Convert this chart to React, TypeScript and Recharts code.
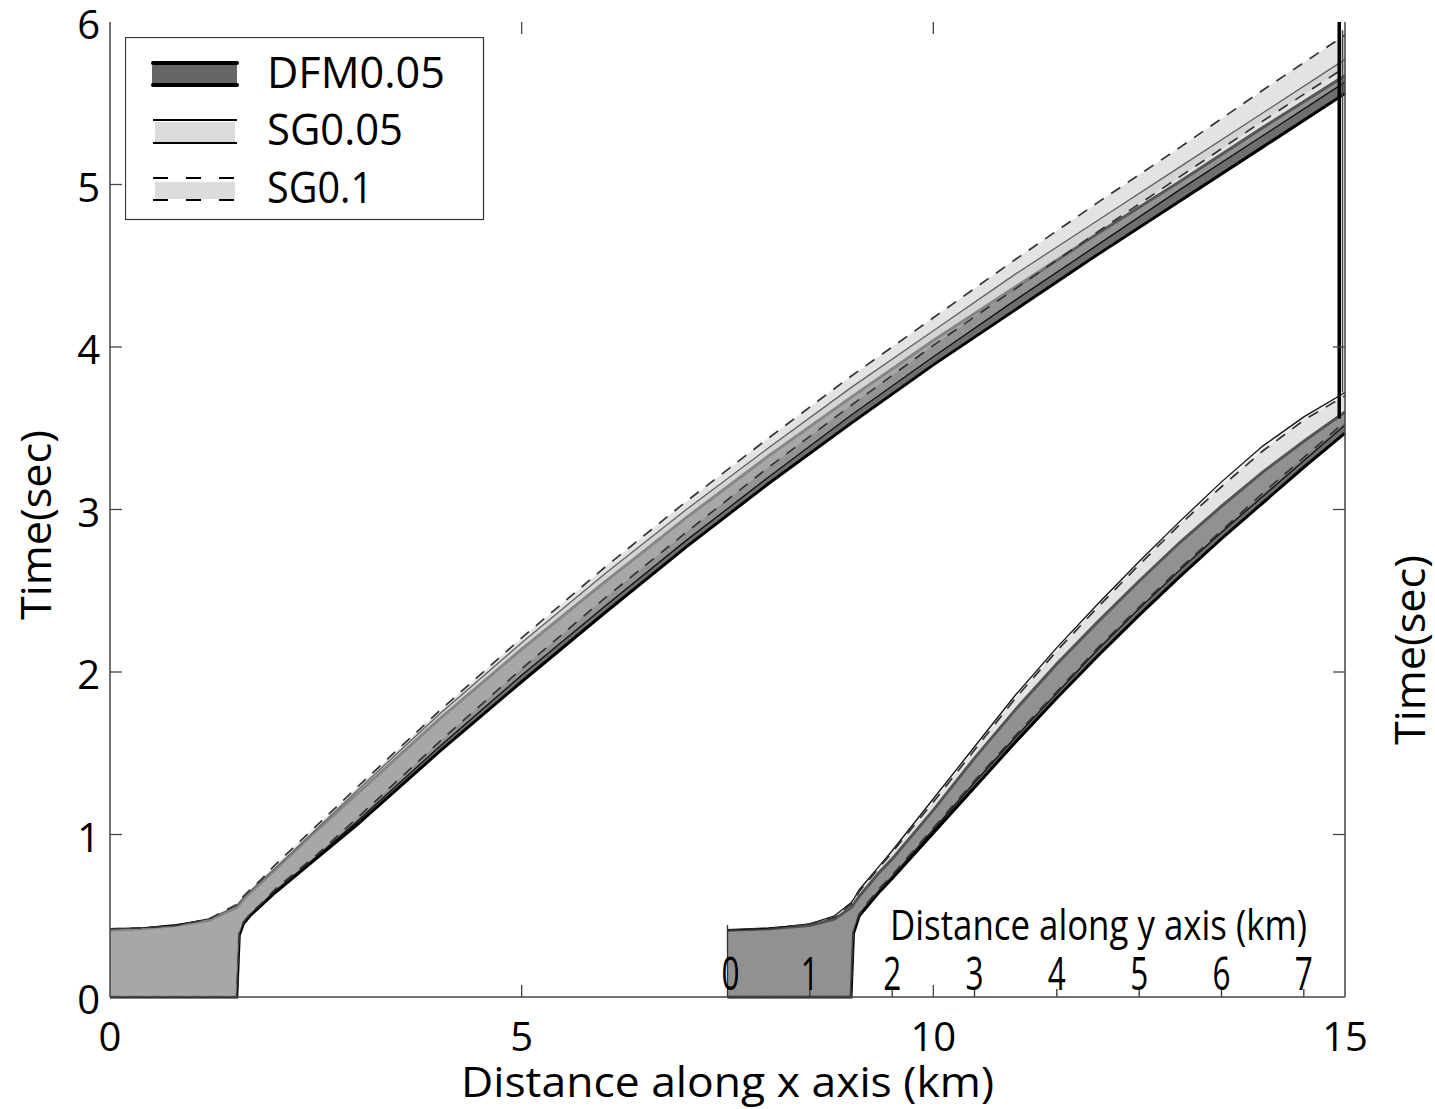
import React from 'react';
import { ComposedChart, Area, Line, XAxis, YAxis, ReferenceLine, Legend, Label } from 'recharts';

const FONT = "'Open Sans', 'DejaVu Sans', sans-serif";
const W = 1435;
const H = 1109;

// distance along x axis (km) and time band edges (sec)
const xKm = [0, 0.4, 0.8, 1.2, 1.54, 1.57, 1.62, 1.7, 1.85, 2.0, 2.5, 3, 4, 5, 6, 7, 8, 9, 10, 11, 12, 13, 14, 15];
const dfmXLow = [0, 0, 0, 0, 0, 0.38, 0.45, 0.5, 0.57, 0.64, 0.85, 1.06, 1.51, 1.94, 2.36, 2.77, 3.16, 3.53, 3.89, 4.23, 4.57, 4.9, 5.23, 5.56];
const dfmXHigh = [0.41, 0.42, 0.44, 0.47, 0.55, 0.57, 0.6, 0.64, 0.71, 0.78, 1.02, 1.25, 1.71, 2.14, 2.55, 2.95, 3.33, 3.69, 4.04, 4.37, 4.7, 5.02, 5.35, 5.67];
const sg05XLow = [0, 0, 0, 0, 0, 0.39, 0.46, 0.51, 0.58, 0.65, 0.86, 1.08, 1.54, 1.98, 2.4, 2.81, 3.2, 3.58, 3.94, 4.29, 4.63, 4.97, 5.3, 5.63];
const sg05XHigh = [0.42, 0.425, 0.44, 0.48, 0.56, 0.58, 0.61, 0.65, 0.72, 0.79, 1.03, 1.27, 1.74, 2.18, 2.6, 3.0, 3.38, 3.75, 4.1, 4.45, 4.78, 5.11, 5.44, 5.77];
const sg01XLow = [0, 0, 0, 0, 0, 0.39, 0.46, 0.51, 0.58, 0.66, 0.87, 1.1, 1.57, 2.02, 2.45, 2.86, 3.26, 3.64, 4.01, 4.36, 4.71, 5.05, 5.39, 5.72];
const sg01XHigh = [0.42, 0.425, 0.44, 0.48, 0.57, 0.59, 0.62, 0.66, 0.73, 0.81, 1.05, 1.29, 1.76, 2.21, 2.64, 3.05, 3.44, 3.82, 4.18, 4.54, 4.89, 5.23, 5.58, 5.92];

// distance along y axis (km), plotted from 7.5 km on the x scale
const yOrigin = 7.5;
const yKm = [0, 0.5, 1.0, 1.3, 1.5, 1.53, 1.6, 1.7, 1.85, 2.0, 2.5, 3.0, 3.5, 4.0, 4.5, 5.0, 5.5, 6.0, 6.5, 7.0, 7.5];
const dfmYLow = [0, 0, 0, 0, 0, 0.39, 0.5, 0.56, 0.65, 0.73, 1.01, 1.29, 1.57, 1.84, 2.1, 2.35, 2.59, 2.82, 3.04, 3.26, 3.47];
const dfmYHigh = [0.41, 0.42, 0.44, 0.48, 0.55, 0.57, 0.62, 0.68, 0.77, 0.85, 1.15, 1.47, 1.77, 2.05, 2.31, 2.56, 2.8, 3.02, 3.23, 3.42, 3.6];
const sg05YLow = [0, 0, 0, 0, 0, 0.4, 0.51, 0.57, 0.66, 0.74, 1.03, 1.32, 1.6, 1.87, 2.14, 2.39, 2.63, 2.86, 3.08, 3.3, 3.52];
const sg05YHigh = [0.41, 0.42, 0.45, 0.5, 0.58, 0.6, 0.66, 0.72, 0.81, 0.9, 1.22, 1.54, 1.86, 2.15, 2.42, 2.68, 2.93, 3.17, 3.39, 3.57, 3.72];
const sg01YLow = [0, 0, 0, 0, 0, 0.4, 0.51, 0.58, 0.67, 0.75, 1.04, 1.33, 1.61, 1.88, 2.15, 2.4, 2.64, 2.87, 3.1, 3.32, 3.54];
const sg01YHigh = [0.41, 0.42, 0.45, 0.49, 0.57, 0.59, 0.65, 0.71, 0.8, 0.89, 1.2, 1.52, 1.84, 2.13, 2.4, 2.66, 2.91, 3.14, 3.36, 3.55, 3.7];

// vertical joins at the end of the fault
const dfmJoinKm = [14.93, 14.93];
const dfmJoinT = [3.56, 6.0];
const sgJoinKm = [14.97, 14.97];
const sgJoinT = [3.72, 5.95];

// ticks
const xTicks = [0, 5, 10, 15];
const yTicks = [0, 1, 2, 3, 4, 5, 6];
const rightTicks = [0, 1, 2, 3, 4];
const insetTicks = [0, 1, 2, 3, 4, 5, 6, 7];
const seriesNames = ['DFM0.05', 'SG0.05', 'SG0.1'];

const toRows = (xs: number[], lo: number[], hi: number[], shift = 0) =>
  xs.map((x, i) => ({ x: x + shift, band: [lo[i], hi[i]] }));
const toLine = (xs: number[], ts: number[]) => xs.map((x, i) => ({ x, t: ts[i] }));

const styles = {
  dfm: { fill: '#6e6e6e', stroke: '#000', strokeWidth: 3, dash: undefined },
  sg05: { fill: '#c0c0c0', stroke: '#111', strokeWidth: 1.3, dash: undefined },
  sg01: { fill: '#c0c0c0', stroke: '#333', strokeWidth: 1.7, dash: '11 9' },
};

const bands = [
  { key: 'dfmX', rows: toRows(xKm, dfmXLow, dfmXHigh), s: styles.dfm, op: 1 },
  { key: 'sg05X', rows: toRows(xKm, sg05XLow, sg05XHigh), s: styles.sg05, op: 0.45 },
  { key: 'sg01X', rows: toRows(xKm, sg01XLow, sg01XHigh), s: styles.sg01, op: 0.45 },
  { key: 'dfmY', rows: toRows(yKm, dfmYLow, dfmYHigh, yOrigin), s: styles.dfm, op: 1 },
  { key: 'sg05Y', rows: toRows(yKm, sg05YLow, sg05YHigh, yOrigin), s: styles.sg05, op: 0.25 },
  { key: 'sg01Y', rows: toRows(yKm, sg01YLow, sg01YHigh, yOrigin), s: styles.sg01, op: 0.25 },
];

const renderLegend = () => (
  <svg width={360} height={184} style={{ display: 'block' }}>
    <rect x={0.5} y={0.5} width={358} height={182} fill="#fff" stroke="#333" strokeWidth={1.2} />
    {/* DFM0.05 */}
    <rect x={27} y={28} width={85} height={19} fill="#666" />
    <line x1={28} y1={26} x2={112} y2={26} stroke="#000" strokeWidth={4} strokeLinecap="round" />
    <line x1={28} y1={48} x2={112} y2={48} stroke="#000" strokeWidth={4} strokeLinecap="round" />
    {/* SG0.05 */}
    <rect x={30} y={85} width={80} height={20} fill="#dcdcdc" />
    <line x1={28} y1={83} x2={112} y2={83} stroke="#000" strokeWidth={2} />
    <line x1={28} y1={106} x2={112} y2={106} stroke="#000" strokeWidth={2} />
    {/* SG0.1 */}
    <rect x={30} y={145} width={80} height={17} fill="#dcdcdc" />
    <line x1={28} y1={141} x2={112} y2={141} stroke="#000" strokeWidth={2} strokeDasharray="15 18" />
    <line x1={28} y1={163} x2={112} y2={163} stroke="#000" strokeWidth={2} strokeDasharray="15 18" />
    {seriesNames.map((n, i) => (
      <text key={n} x={142} y={[51, 108, 166][i]} fontSize={43} fontFamily={FONT} fill="#000"
        textLength={[178, 136, 106][i]} lengthAdjust="spacingAndGlyphs">{n}</text>
    ))}
  </svg>
);

const yTitle = (side: 'left' | 'right') => (props: any) => {
  const vb = props.viewBox || { x: 0, y: 0, width: 0, height: 0 };
  const x = side === 'left' ? vb.x + 51 : vb.x + 80;
  const y = vb.y + (side === 'left' ? 503 : 628);
  return (
    <text x={0} y={0} transform={`translate(${x},${y}) rotate(-90)`} textAnchor="middle" fontSize={42}
      fontFamily={FONT} fill="#000" textLength={190} lengthAdjust="spacingAndGlyphs">Time(sec)</text>
  );
};

const xTitle = (props: any) => {
  const vb = props.viewBox || { x: 0, y: 0, width: 0, height: 0 };
  return (
    <text x={vb.x + vb.width / 2} y={vb.y + 100} textAnchor="middle" fontSize={42} fontFamily={FONT} fill="#000"
      textLength={533} lengthAdjust="spacingAndGlyphs">Distance along x axis (km)</text>
  );
};

const insetTickLabel = (d: number) => (props: any) => {
  const vb = props.viewBox || { x: 0, y: 0, width: 0, height: 0 };
  const x = vb.x + (d === 0 ? 3 : 0);
  const y = vb.y + vb.height - 7;
  return (
    <text x={0} y={0} transform={`translate(${x},${y}) scale(0.7,1)`} textAnchor="middle" fontSize={45}
      fontFamily={FONT} fill="#000">{d}</text>
  );
};

export default function App() {
  return (
    <div style={{ position: 'absolute', left: 0, top: 0, width: W, height: H, background: '#fff' }}>
      <ComposedChart width={W} height={H} margin={{ top: 22, right: 0, bottom: 0, left: 0 }}>
        <XAxis xAxisId={0} dataKey="x" type="number" domain={[0, 15]} ticks={xTicks} interval={0}
          height={112} tickSize={0} tickMargin={26} axisLine={{ stroke: '#444', strokeWidth: 1.5 }} tickLine={false}
          tick={{ fontSize: 40, fill: '#000', fontFamily: FONT }}>
          <Label content={xTitle} />
        </XAxis>
        <XAxis xAxisId="top" orientation="top" type="number" domain={[0, 15]} height={0} tick={false}
          tickLine={false} axisLine={{ stroke: '#444', strokeWidth: 1.5 }} />
        <YAxis yAxisId={0} type="number" domain={[0, 6]} ticks={yTicks} interval={0} width={110} tickSize={0}
          tickMargin={10} axisLine={{ stroke: '#444', strokeWidth: 1.5 }} tickLine={false}
          tick={{ fontSize: 40, fill: '#000', fontFamily: FONT, dy: 3 }}>
          <Label content={yTitle('left')} />
        </YAxis>
        <YAxis yAxisId="right" orientation="right" type="number" domain={[0, 6]} ticks={rightTicks} interval={0}
          width={90} tickSize={0} tickMargin={15} axisLine={{ stroke: '#444', strokeWidth: 1.5 }} tickLine={false}
          tick={{ fontSize: 40, fill: '#000', fontFamily: FONT }}>
          <Label content={yTitle('right')} />
        </YAxis>

        {bands.map((b) => (
          <Area key={b.key} data={b.rows} dataKey="band" type="linear" fill={b.s.fill} fillOpacity={b.op}
            stroke={b.s.stroke} strokeWidth={b.s.strokeWidth} strokeDasharray={b.s.dash}
            dot={false} activeDot={false} legendType="none" isAnimationActive={false} />
        ))}
        <Line data={toLine(dfmJoinKm, dfmJoinT)} dataKey="t" stroke="#000" strokeWidth={3.5} dot={false}
          activeDot={false} legendType="none" isAnimationActive={false} />
        <Line data={toLine(sgJoinKm, sgJoinT)} dataKey="t" stroke="#444" strokeWidth={1.5} dot={false}
          activeDot={false} legendType="none" isAnimationActive={false} />

        {/* inward ticks, matlab style */}
        {yTicks.slice(1, 6).map((t) => (
          <ReferenceLine key={'lt' + t} segment={[{ x: 0, y: t }, { x: 0.146, y: t }]} stroke="#444" strokeWidth={1.3} />
        ))}
        {rightTicks.slice(1).map((t) => (
          <ReferenceLine key={'rt' + t} segment={[{ x: 14.854, y: t }, { x: 15, y: t }]} stroke="#444" strokeWidth={1.3} />
        ))}
        {xTicks.slice(1, 3).map((x) => (
          <ReferenceLine key={'bt' + x} segment={[{ x, y: 0 }, { x, y: 0.074 }]} stroke="#444" strokeWidth={1.3} />
        ))}
        {xTicks.slice(1, 3).map((x) => (
          <ReferenceLine key={'tt' + x} segment={[{ x, y: 6 }, { x, y: 5.926 }]} stroke="#444" strokeWidth={1.3} />
        ))}

        {/* inset axis: distance along y */}
        {insetTicks.map((d) => (
          <ReferenceLine key={'it' + d} segment={[{ x: yOrigin + d, y: 0 }, { x: yOrigin + d, y: d === 0 ? 0.443 : 0.05 }]}
            stroke="#333" strokeWidth={1.3} label={insetTickLabel(d)} />
        ))}

        <Legend content={renderLegend} layout="horizontal" verticalAlign="middle" align="center"
          wrapperStyle={{ left: 125, top: 37, width: 360, height: 184 }} />
      </ComposedChart>
      <svg width={W} height={H} style={{ position: 'absolute', left: 0, top: 0, pointerEvents: 'none' }}>
        <text x={890} y={940} fontSize={42} fontFamily={FONT} fill="#000" textLength={417}
          lengthAdjust="spacingAndGlyphs">Distance along y axis (km)</text>
      </svg>
    </div>
  );
}
